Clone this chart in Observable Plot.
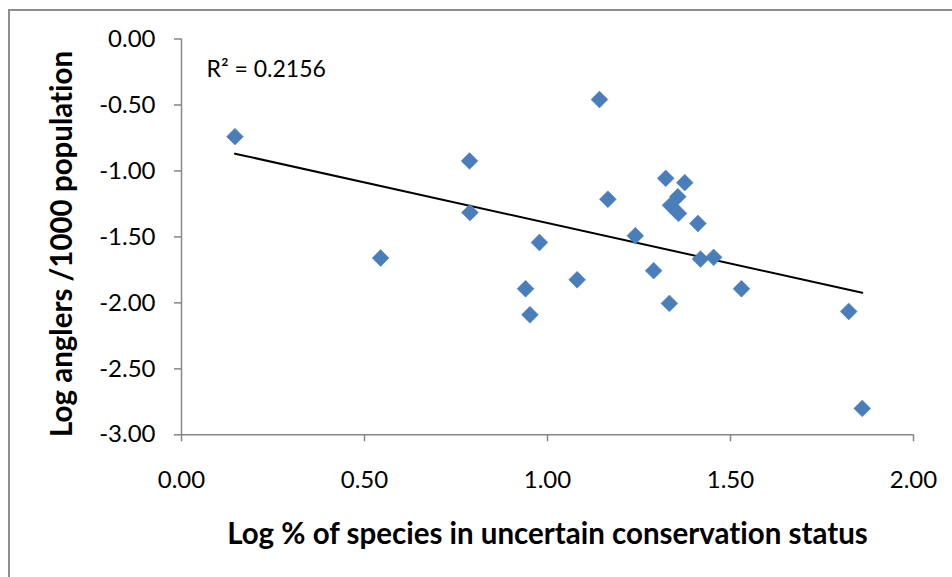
<!DOCTYPE html>
<html>
<head>
<meta charset="utf-8">
<script src="https://cdn.jsdelivr.net/npm/d3@7"></script>
<script src="https://cdn.jsdelivr.net/npm/@observablehq/plot@0.6"></script>
<style>
  html, body { margin: 0; padding: 0; background: #fff; overflow: hidden; }
  #wrap { position: relative; width: 952px; height: 577px; overflow: hidden; }
  #border { position: absolute; left: 8px; top: 9px; width: 1200px; height: 1200px;
            border: 2px solid #8e8e8e; box-sizing: border-box; pointer-events: none; }
  #chart { position: absolute; left: 0; top: 0; }
  #chart svg text { font-variant-ligatures: none; font-feature-settings: "liga" 0; }
</style>
</head>
<body>
<div id="wrap"><div id="border"></div><div id="chart"></div></div>
<script>
// Log % of species in uncertain conservation status
const xValues = [0.146, 0.544, 0.787, 0.788, 0.940, 0.952, 0.978, 1.081, 1.142, 1.165, 1.240, 1.290,
                 1.323, 1.333, 1.336, 1.356, 1.358, 1.375, 1.411, 1.418, 1.454, 1.530, 1.823, 1.860];
// Log anglers /1000 population
const yValues = [-0.740, -1.660, -0.924, -1.316, -1.893, -2.090, -1.542, -1.825, -0.459, -1.215, -1.491, -1.756,
                 -1.056, -2.004, -1.261, -1.195, -1.322, -1.089, -1.398, -1.668, -1.655, -1.893, -2.065, -2.800];
const xTicks = [0, 0.5, 1, 1.5, 2];
const yTicks = [0, -0.5, -1, -1.5, -2, -2.5, -3];
const xTitle = "Log % of species in uncertain conservation status";
const yTitle = "Log anglers /1000 population";
const r2Label = "R² = 0.2156";

const data = xValues.map((x, i) => ({x, y: yValues[i]}));
const axisGray = "#868686";
const font = "Lato, 'Open Sans', sans-serif";

const chart = Plot.plot({
  width: 952,
  height: 577,
  marginLeft: 181,
  marginRight: 39,
  marginTop: 38.5,
  marginBottom: 142.7,
  style: {fontFamily: font, background: "transparent", overflow: "visible"},
  x: {domain: [0, 2]},
  y: {domain: [-3, 0]},
  marks: [
    Plot.axisX({ticks: xTicks, tickFormat: d => d.toFixed(2), tickSize: 7, tickPadding: 29,
                stroke: axisGray, strokeWidth: 1.5, fill: "black", fontSize: 24, label: null}),
    Plot.axisY({ticks: yTicks, tickFormat: d => d.toFixed(2), tickSize: 7, tickPadding: 19,
                stroke: axisGray, strokeWidth: 1.5, fill: "black", fontSize: 24, label: null}),
    Plot.ruleY([-3], {stroke: axisGray, strokeWidth: 1.5}),
    Plot.ruleX([0], {stroke: axisGray, strokeWidth: 1.5}),
    Plot.linearRegressionY(data, {x: "x", y: "y", ci: 0, stroke: "black", strokeWidth: 2}),
    Plot.dot(data, {x: "x", y: "y", symbol: "diamond2", r: 7.6, fill: "#4a7ebb", stroke: "#4f81bd", strokeWidth: 0.5}),
    Plot.text([r2Label], {frameAnchor: "top-left", dx: 25, dy: 30.5, textAnchor: "start", lineAnchor: "middle",
                          fontSize: 23, fill: "black"}),
    Plot.text([xTitle], {frameAnchor: "bottom", dy: 100, lineAnchor: "middle", textAnchor: "middle",
                         fontSize: 29.5, fontWeight: "bold", fill: "black"}),
    Plot.text([yTitle], {frameAnchor: "left", dx: -119, dy: 7, rotate: -90, lineAnchor: "middle", textAnchor: "middle",
                         fontSize: 29.5, fontWeight: "bold", fill: "black"})
  ]
});
document.getElementById("chart").appendChild(chart);
</script>
</body>
</html>
